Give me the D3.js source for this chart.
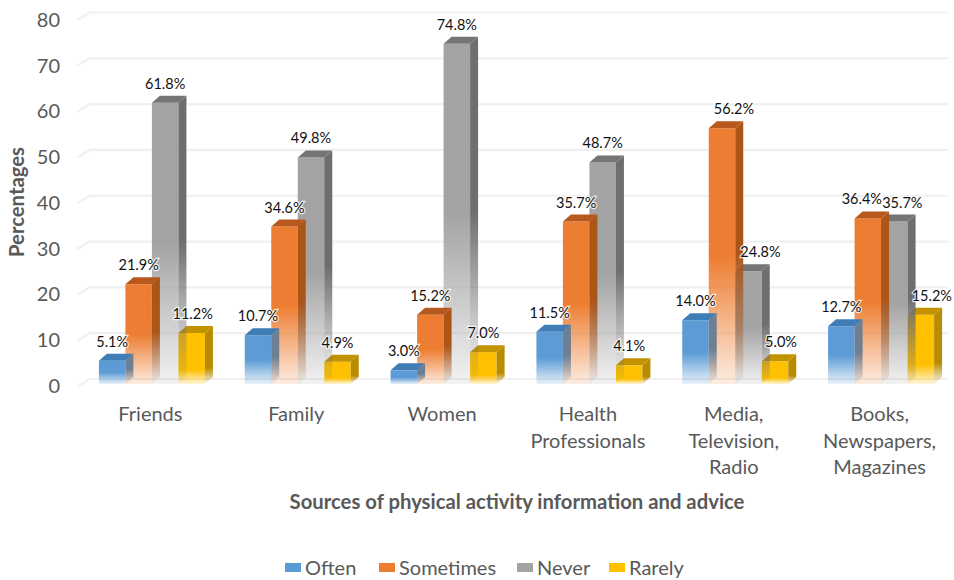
<!DOCTYPE html>
<html><head><meta charset="utf-8">
<script src="https://cdn.jsdelivr.net/npm/d3@7"></script>
<style>html,body{margin:0;background:#fff}svg{display:block}text{font-family:Lato,"Open Sans",sans-serif}</style>
</head><body><svg id="c" width="954" height="580"></svg>
<script>
const categories = ["Friends","Family","Women","Health Professionals","Media, Television, Radio","Books, Newspapers, Magazines"];
const seriesNames = ["Often","Sometimes","Never","Rarely"];
const often = [5.1,10.7,3.0,11.5,14.0,12.7];
const sometimes = [21.9,34.6,15.2,35.7,56.2,36.4];
const never = [61.8,49.8,74.8,48.7,24.8,35.7];
const rarely = [11.2,4.9,7.0,4.1,5.0,15.2];
const yTicks = [0,10,20,30,40,50,60,70,80];
const seriesValues = [often,sometimes,never,rarely];

const front = ["#5b9bd5","#ed7d31","#a3a3a3","#ffc000"];
const topC = ["#3f7cb5","#b8591c","#757575","#c29200"];
const sideC = ["#6d7f92","#ab5519","#6e6e6e","#b98c00"];
const dx = 8, dy = 7;
const textCol = "#595959";

// Hand nudges where the original moved labels to avoid collisions
const labelNudge = {"4-1":12,"4-2":12,"4-3":6,"5-1":-6,"5-2":8,"5-3":11,"0-3":1};

const svg = d3.select("#c");
const defs = svg.append("defs");
const blur = defs.append("filter").attr("id","soft").attr("x","-10%").attr("y","-10%").attr("width","120%").attr("height","120%");
blur.append("feGaussianBlur").attr("stdDeviation",0.45);

function fade(id,col,solidTo,endOp){
  const g = defs.append("linearGradient").attr("id",id).attr("x1",0).attr("y1",0).attr("x2",0).attr("y2",1);
  g.append("stop").attr("offset",0).attr("stop-color",col);
  g.append("stop").attr("offset",solidTo).attr("stop-color",col);
  g.append("stop").attr("offset",1).attr("stop-color",col).attr("stop-opacity",endOp);
}
seriesNames.forEach((s,i)=>{
  const solid = i===3 ? 0.72 : 0.5;
  fade("f"+i,front[i],solid,0.14);
  fade("s"+i,sideC[i],solid,0.04);
});

const x = d3.scaleBand().domain(categories).range([79,954]).paddingInner(0.273).paddingOuter(0.1365);
const xS = d3.scaleBand().domain(d3.range(4)).range([0,x.bandwidth()]);
const y = d3.scaleLinear().domain([0,80]).range([384,20]);
const yGrid = d3.scaleLinear().domain([0,80]).range([379,12.5]);
const yLab = d3.scaleLinear().domain([0,80]).range([386,20]);

// gridlines
const grid = svg.append("g").attr("fill","none").attr("stroke","#f0f0f0").attr("stroke-width",2.2);
grid.selectAll("path").data(yTicks).join("path")
  .attr("d",v=>`M77,${yGrid(v)+7.5}L90,${yGrid(v)}H948`);

// y axis
const yAxis = svg.append("g").attr("transform","translate(66,0)")
  .call(d3.axisLeft(yLab).tickValues(yTicks).tickSize(0).tickPadding(6));
yAxis.select(".domain").remove();
yAxis.selectAll("text").attr("fill",textCol).style("font-size","20px").style("font-family","Lato");

// bars, right to left so each side face falls over its right neighbour
const bars = svg.append("g").attr("filter","url(#soft)");
categories.forEach((c,ci)=>{
  for(let si=3;si>=0;si--){
    const v = seriesValues[si][ci];
    const x0 = x(c)+xS(si), w = xS.bandwidth(), t = y(v), b = y(0);
    const g = bars.append("g");
    g.append("path").attr("fill",`url(#f${si})`).attr("d",`M${x0},${t}H${x0+w}V${b}H${x0}Z`);
    g.append("path").attr("fill",`url(#s${si})`)
      .attr("d",`M${x0+w},${t}L${x0+w+dx},${t-dy}V${b-dy}L${x0+w},${b}Z`);
    g.append("path").attr("fill",topC[si])
      .attr("d",`M${x0},${t}L${x0+dx},${t-dy}H${x0+w+dx}L${x0+w},${t}Z`);
  }
});

// data labels
const labels = svg.append("g");
categories.forEach((c,ci)=>{
  seriesValues.forEach((vals,si)=>{
    const v = vals[ci];
    labels.append("text")
      .attr("x",x(c)+xS(si)+xS.bandwidth()/2+(labelNudge[ci+"-"+si]||0))
      .attr("y",y(v)-14)
      .attr("text-anchor","middle")
      .attr("fill","#111")
      .attr("stroke","#fff").attr("stroke-width",2.5).attr("stroke-opacity",0.8).attr("paint-order","stroke")
      .style("font-size","14.5px")
      .text(v.toFixed(1)+"%");
  });
});

// category labels
const cat = svg.append("g").attr("fill",textCol).attr("text-anchor","middle").style("font-size","20px");
categories.forEach(c=>{
  const t = cat.append("text").attr("transform",`translate(${x(c)+x.bandwidth()/2-1.5},421)`);
  c.split(" ").forEach((w,i)=>t.append("tspan").attr("x",0).attr("y",i*26.5).text(w));
});

// axis titles
svg.append("text").attr("x",517).attr("y",509).attr("text-anchor","middle").attr("fill",textCol)
  .style("font-size","20.3px").style("font-weight","700").text("Sources of physical activity information and advice");
svg.append("text").attr("transform","translate(24,202) rotate(-90)").attr("text-anchor","middle").attr("fill",textCol)
  .style("font-size","20.3px").style("font-weight","700").text("Percentages");

// legend
const legendX = d3.scaleOrdinal().domain(seriesNames).range([285,379,517,609]);
const leg = svg.append("g");
seriesNames.forEach((s,i)=>{
  leg.append("rect").attr("x",legendX(s)).attr("y",563).attr("width",16).attr("height",9).attr("fill",front[i]);
  leg.append("text").attr("x",legendX(s)+20).attr("y",575).attr("fill",textCol).style("font-size","20px").text(s);
});
</script></body></html>
